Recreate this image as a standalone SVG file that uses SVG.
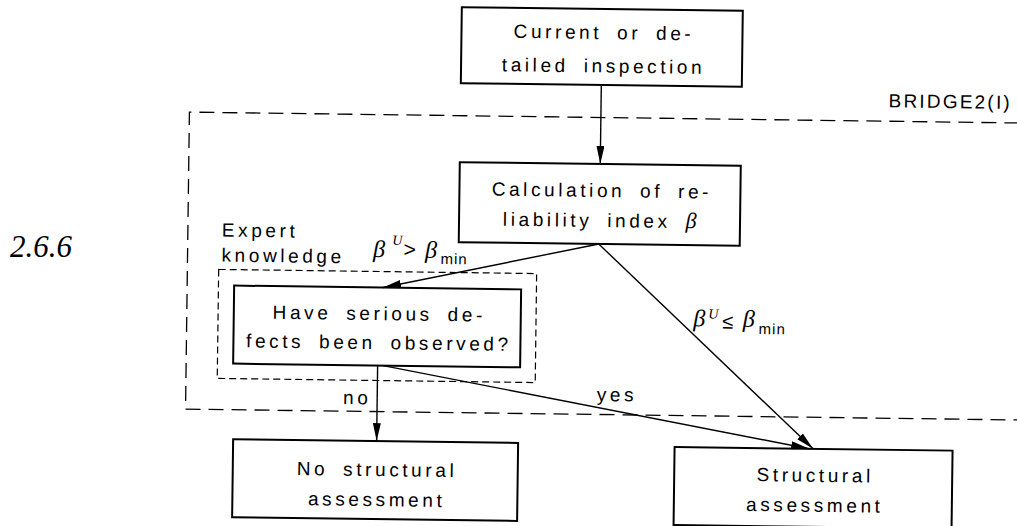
<svg xmlns="http://www.w3.org/2000/svg" width="1017" height="526" viewBox="0 0 1017 526">
<defs>
<marker id="ah" markerUnits="userSpaceOnUse" markerWidth="20" markerHeight="10" refX="18" refY="4" orient="auto">
<path d="M0,0 L18,4 L0,8 Z" fill="#000"/>
</marker>
<style>
.box{fill:#fff;stroke:#000;stroke-width:2}
.t{font-family:"Liberation Sans",Arial,sans-serif;font-size:19px;letter-spacing:3.6px;word-spacing:6px;fill:#000;text-anchor:middle}
.lbl{font-family:"Liberation Sans",Arial,sans-serif;font-size:19px;letter-spacing:3.6px;word-spacing:6px;fill:#000}
.reg{fill:none;stroke:#000;stroke-width:1.3;stroke-dasharray:15 8}
.inner{fill:none;stroke:#000;stroke-width:1.2;stroke-dasharray:7 4}
.c{fill:none;stroke:#000;stroke-width:1.4;marker-end:url(#ah)}
.m{font-family:"Liberation Serif","Times New Roman",serif;font-style:italic;fill:#000}
.s{font-family:"Liberation Sans",Arial,sans-serif;fill:#000}
</style>
</defs>
<rect width="1017" height="526" fill="#fff"/>
<text x="10" y="257" font-family="Liberation Serif, Times New Roman, serif" font-style="italic" font-size="31">2.6.6</text>
<g transform="rotate(0.75 600 300)">
 <g id="region-bridge2">
  <path class="reg" d="M1040 117.5 H187 V414.5 H1040"/>
  <text class="lbl" x="886" y="103.5" style="letter-spacing:2.2px">BRIDGE2(I)</text>
 </g>
 <g id="n-inspection">
  <rect class="box" x="458" y="9" width="281" height="76"/>
  <text class="t" x="600.5" y="39">Current or de-</text>
  <text class="t" x="600.5" y="72.5">tailed inspection</text>
 </g>
 <g id="n-calc">
  <rect class="box" x="458" y="164" width="281" height="80"/>
  <text class="t" x="600.5" y="197">Calculation of re-</text>
  <text class="t" x="600.5" y="227">liability index <tspan class="m" style="font-size:22px">β</tspan></text>
 </g>
 <g id="n-expert">
  <rect class="inner" x="218.3" y="274.4" width="318" height="109"/>
  <text class="lbl" x="221" y="241.5">Expert</text>
  <text class="lbl" x="221" y="266.5">knowledge</text>
 </g>
 <g id="n-defects">
  <rect class="box" x="234" y="290.4" width="287" height="78"/>
  <text class="t" x="379.5" y="323">Have serious de-</text>
  <text class="t" x="379.5" y="352">fects been observed?</text>
 </g>
 <g id="n-none">
  <rect class="box" x="235" y="444" width="285" height="78"/>
  <text class="t" x="379.3" y="479">No structural</text>
  <text class="t" x="379.3" y="509">assessment</text>
 </g>
 <g id="n-struct">
  <rect class="box" x="676.5" y="446" width="278" height="78"/>
  <text class="t" x="817.5" y="479">Structural</text>
  <text class="t" x="817.5" y="509">assessment</text>
 </g>
 <g id="connectors">
  <path class="c" d="M598.5 85 V164"/>
  <path class="c" d="M598 244 L383 290.4"/>
  <path class="c" d="M598 244 L815 446"/>
  <path class="c" d="M384 368.4 L811 446"/>
  <path class="c" d="M378.5 368.4 V444"/>
 </g>
 <g id="labels">
  <text class="m" x="372.5" y="260" font-size="24">β</text>
  <text class="m" x="391.5" y="247.5" font-size="14">U</text>
  <text class="s" x="403" y="259" font-size="21">&gt;</text>
  <text class="m" x="424.5" y="260" font-size="24">β</text>
  <text class="s" x="440" y="266" font-size="15" letter-spacing="1">min</text>
  <text class="m" x="693.5" y="325" font-size="24">β</text>
  <text class="m" x="708.5" y="317" font-size="14">U</text>
  <text class="s" x="722.5" y="327" font-size="20">≤</text>
  <text class="m" x="743" y="325" font-size="24">β</text>
  <text class="s" x="759" y="332" font-size="15" letter-spacing="1">min</text>
  <text class="lbl" x="598" y="401">yes</text>
  <text class="lbl" x="344.4" y="407.4">no</text>
 </g>
</g>
</svg>
